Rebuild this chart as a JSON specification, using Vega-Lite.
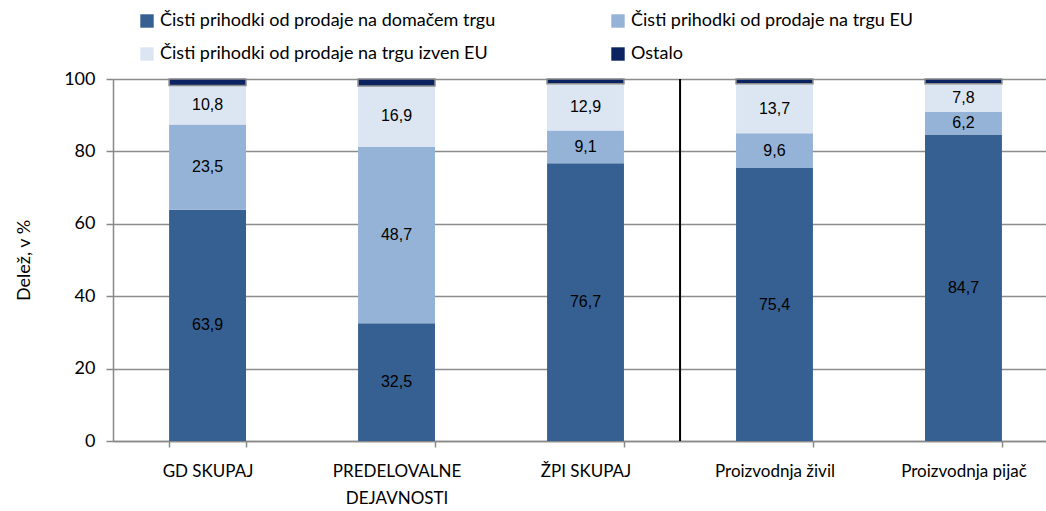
{
  "$schema": "https://vega.github.io/schema/vega-lite/v6.json",
  "width": 933,
  "height": 362,
  "autosize": {"type": "none"},
  "padding": {"left": 113, "top": 79, "right": 0, "bottom": 70},
  "config": {
    "view": {"stroke": null},
    "locale": {"number": {"decimal": ",", "thousands": ".", "grouping": [3], "currency": ["", " €"]}},
    "font": "Lato"
  },
  "data": {
    "values": [
      {"x": "GD SKUPAJ", "cat": "Čisti prihodki od prodaje na domačem trgu", "v": 63.9},
      {"x": "GD SKUPAJ", "cat": "Čisti prihodki od prodaje na trgu EU", "v": 23.5},
      {"x": "GD SKUPAJ", "cat": "Čisti prihodki od prodaje na trgu izven EU", "v": 10.8},
      {"x": "GD SKUPAJ", "cat": "Ostalo", "v": 1.8},
      {"x": "PREDELOVALNE DEJAVNOSTI", "cat": "Čisti prihodki od prodaje na domačem trgu", "v": 32.5},
      {"x": "PREDELOVALNE DEJAVNOSTI", "cat": "Čisti prihodki od prodaje na trgu EU", "v": 48.7},
      {"x": "PREDELOVALNE DEJAVNOSTI", "cat": "Čisti prihodki od prodaje na trgu izven EU", "v": 16.9},
      {"x": "PREDELOVALNE DEJAVNOSTI", "cat": "Ostalo", "v": 1.9},
      {"x": "ŽPI SKUPAJ", "cat": "Čisti prihodki od prodaje na domačem trgu", "v": 76.7},
      {"x": "ŽPI SKUPAJ", "cat": "Čisti prihodki od prodaje na trgu EU", "v": 9.1},
      {"x": "ŽPI SKUPAJ", "cat": "Čisti prihodki od prodaje na trgu izven EU", "v": 12.9},
      {"x": "ŽPI SKUPAJ", "cat": "Ostalo", "v": 1.3},
      {"x": "Proizvodnja živil", "cat": "Čisti prihodki od prodaje na domačem trgu", "v": 75.4},
      {"x": "Proizvodnja živil", "cat": "Čisti prihodki od prodaje na trgu EU", "v": 9.6},
      {"x": "Proizvodnja živil", "cat": "Čisti prihodki od prodaje na trgu izven EU", "v": 13.7},
      {"x": "Proizvodnja živil", "cat": "Ostalo", "v": 1.3},
      {"x": "Proizvodnja pijač", "cat": "Čisti prihodki od prodaje na domačem trgu", "v": 84.7},
      {"x": "Proizvodnja pijač", "cat": "Čisti prihodki od prodaje na trgu EU", "v": 6.2},
      {"x": "Proizvodnja pijač", "cat": "Čisti prihodki od prodaje na trgu izven EU", "v": 7.8},
      {"x": "Proizvodnja pijač", "cat": "Ostalo", "v": 1.3}
    ]
  },
  "transform": [
    {"calculate": "indexof(['Čisti prihodki od prodaje na domačem trgu','Čisti prihodki od prodaje na trgu EU','Čisti prihodki od prodaje na trgu izven EU','Ostalo'], datum.cat)", "as": "o"}
  ],
  "encoding": {
    "x": {
      "field": "x",
      "type": "nominal",
      "sort": null,
      "title": null,
      "scale": {"paddingInner": 0.593, "paddingOuter": 0.265, "align": 0.56},
      "axis": {
        "labelAngle": 0,
        "labelFont": "Lato",
        "labelFontSize": 17,
        "labelColor": "#000000",
        "labelPadding": 16,
        "labelLineHeight": 27,
        "labelBaseline": "top",
        "labelExpr": "datum.label == 'PREDELOVALNE DEJAVNOSTI' ? ['PREDELOVALNE', 'DEJAVNOSTI'] : datum.label",
        "domainColor": "#888888",
        "domainWidth": 1.5,
        "tickColor": "#888888",
        "tickSize": 6,
        "tickWidth": 1.5,
        "tickBand": "extent"
      }
    }
  },
  "layer": [
    {
      "mark": {"type": "bar"},
      "encoding": {
        "y": {
          "field": "v",
          "type": "quantitative",
          "stack": "zero",
          "title": "Delež, v %",
          "scale": {"domain": [0, 100]},
          "axis": {
            "values": [0, 20, 40, 60, 80, 100],
            "labelFont": "Lato",
            "labelFontSize": 18,
            "labelColor": "#000000",
            "labelPadding": 11,
            "titleFont": "Lato",
            "titleFontSize": 18,
            "titleFontWeight": "normal",
            "titleColor": "#000000",
            "titlePadding": 30,
            "domainColor": "#888888",
            "domainWidth": 1.5,
            "tickColor": "#888888",
            "tickSize": 7,
            "tickWidth": 1.5,
            "gridColor": "#8c8c8c",
            "gridWidth": 1.5
          }
        },
        "color": {
          "field": "cat",
          "type": "nominal",
          "title": null,
          "scale": {
            "domain": ["Čisti prihodki od prodaje na domačem trgu", "Čisti prihodki od prodaje na trgu izven EU", "Čisti prihodki od prodaje na trgu EU", "Ostalo"],
            "range": ["#376092", "#dce6f2", "#95b3d7", "#0b2461"]
          },
          "legend": {
            "orient": "none",
            "legendX": 25,
            "legendY": -67,
            "columns": 2,
            "columnPadding": 113,
            "rowPadding": 15,
            "symbolType": "square",
            "symbolSize": 180,
            "symbolStrokeWidth": 0,
            "labelFont": "Lato",
            "labelFontSize": 18,
            "labelColor": "#000000",
            "labelOffset": 4,
            "labelLimit": 500
          }
        },
        "order": {"field": "o", "type": "quantitative"},
        "stroke": {
          "condition": {"test": "datum.cat == 'Ostalo'", "value": "#8c8c8c"},
          "value": null
        },
        "strokeWidth": {"value": 1.5}
      }
    },
    {
      "transform": [{"filter": "datum.cat != 'Ostalo'"}],
      "mark": {"type": "text", "font": "Liberation Sans", "fontSize": 16, "color": "#000000"},
      "encoding": {
        "y": {"field": "v", "type": "quantitative", "stack": "zero", "bandPosition": 0.5},
        "order": {"field": "o", "type": "quantitative"},
        "text": {"field": "v", "type": "quantitative", "format": ".1f"}
      }
    },
    {
      "data": {"values": [{"a": 1}]},
      "mark": {"type": "rule", "color": "#000000", "strokeWidth": 2},
      "encoding": {
        "x": {"datum": "Proizvodnja živil", "bandPosition": -0.7277},
        "y": {"datum": 0},
        "y2": {"datum": 100}
      }
    }
  ]
}
